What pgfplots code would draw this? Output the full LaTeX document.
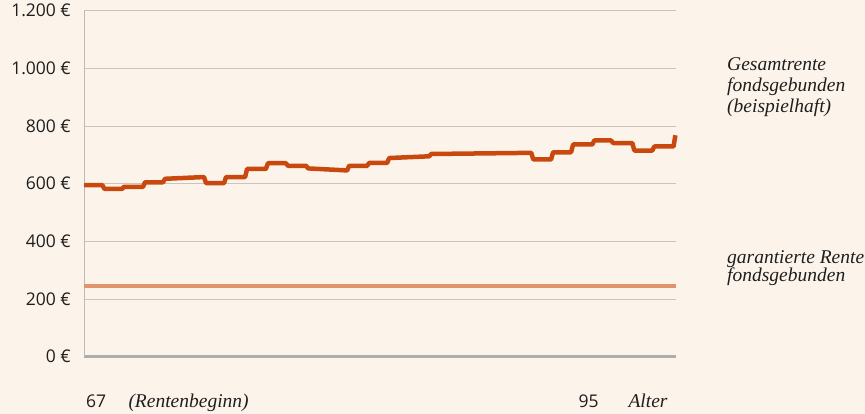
\documentclass[border=0pt]{standalone}
\usepackage{pgfplots}
\pgfplotsset{compat=1.18}
\usepackage{fontspec}
\setmainfont{Open Sans}
\newfontfamily\serifit{Liberation Serif}
\definecolor{bg}{HTML}{FCF4EA}
\definecolor{rente}{HTML}{C9480E}
\definecolor{garant}{HTML}{E0946C}
\definecolor{gridc}{HTML}{CAC4BB}
\definecolor{axisgray}{HTML}{ADADAD}
\definecolor{txt}{HTML}{1E1E1E}
\newcommand{\tickfont}{\fontsize{17.5}{20}\selectfont}
\newcommand{\labfont}{\serifit\itshape\fontsize{19.5}{21}\selectfont}
\begin{document}
\begin{tikzpicture}[x=1pt,y=1pt]
\fill[bg] (0,0) rectangle (865,414);
\useasboundingbox (0,0) rectangle (865,414);
\begin{axis}[
  at={(84pt,57.3pt)}, anchor=south west,
  scale only axis, width=592pt, height=346pt,
  xmin=0, xmax=29, ymin=0, ymax=1200,
  axis x line*=bottom, axis y line*=left,
  x axis line style={-, axisgray, line width=3.2pt},
  y axis line style={-, gridc!85!gray, line width=1pt},
  xtick=\empty,
  ytick={0,200,...,1200},
  yticklabels={\raisebox{-2.3pt}{0 €},\raisebox{-3.9pt}{200 €},\raisebox{-5.5pt}{400 €},\raisebox{-7.2pt}{600 €},\raisebox{-8.8pt}{800 €},\raisebox{-10.4pt}{1.000 €},\raisebox{-12pt}{1.200 €}},
  ymajorgrids, grid style={gridc, line width=0.9pt},
  major tick length=0pt,
  yticklabel style={anchor=east, inner sep=0pt, xshift=-13pt, font=\tickfont, text=txt},
  clip=false,
]
\addplot[garant, line width=4pt] coordinates {(0,245) (29,245)};
\addplot[rente, line width=4.5pt, line join=round] coordinates {
(0,595) (0.90,595) (1.00,582) (1.86,582) (1.96,589) (2.89,589) (2.99,605) (3.87,605)
(3.97,617) (5.88,623) (5.98,602) (6.86,602) (6.96,623) (7.89,623) (7.99,651) (8.91,651)
(9.01,671) (9.89,671) (9.99,662) (10.88,662) (10.98,653) (12.89,646) (12.99,662) (13.87,662)
(13.97,672) (14.85,672) (14.95,689) (16.91,695) (17.01,703) (21.91,707) (22.01,684) (22.88,684)
(22.98,709) (23.86,709) (23.96,736) (24.90,736) (25.00,750) (25.82,750) (25.92,741) (26.86,741)
(26.96,715) (27.84,715) (27.94,729) (28.88,729) (28.97,768)
};
\end{axis}
\node[anchor=base west, inner sep=0pt, font=\tickfont, text=txt] at (86,6.5) {67};
\node[anchor=base west, inner sep=0pt, font=\labfont, text=txt] at (128.3,6.5) {(Rentenbeginn)};
\node[anchor=base west, inner sep=0pt, font=\tickfont, text=txt] at (578.3,6.5) {95};
\node[anchor=base west, inner sep=0pt, font=\labfont, text=txt] at (628.3,6.5) {Alter};
\node[anchor=base west, inner sep=0pt, font=\labfont, text=txt] at (727,343.3) {Gesamtrente};
\node[anchor=base west, inner sep=0pt, font=\labfont, text=txt] at (727,322.3) {fondsgebunden};
\node[anchor=base west, inner sep=0pt, font=\labfont, text=txt] at (727,301) {(beispielhaft)};
\node[anchor=base west, inner sep=0pt, font=\labfont, text=txt] at (727,150.7) {garantierte Rente};
\node[anchor=base west, inner sep=0pt, font=\labfont, text=txt] at (727,132.3) {fondsgebunden};
\end{tikzpicture}
\end{document}
